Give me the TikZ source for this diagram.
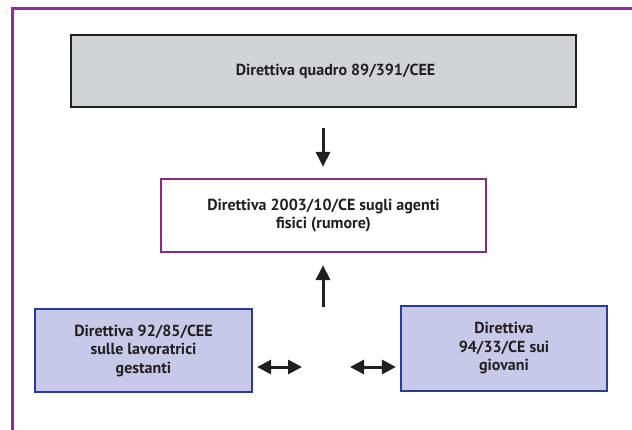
\documentclass[tikz,border=0pt]{standalone}
\usepackage{fontspec}
\setmainfont{PT Sans}
\usetikzlibrary{arrows.meta}
\definecolor{framepurple}{RGB}{150,40,160}
\definecolor{boxpurple}{RGB}{135,45,125}
\definecolor{grayfill}{RGB}{210,211,213}
\definecolor{darkline}{RGB}{35,31,32}
\definecolor{bluefill}{RGB}{200,201,232}
\definecolor{blueline}{RGB}{40,60,150}
\tikzset{
  lbl/.style={font=\fontsize{16}{18.5}\selectfont\bfseries, text=darkline, align=center},
  graybox/.style={lbl, rectangle, draw=darkline, line width=2.2pt, fill=grayfill},
  purplebox/.style={lbl, rectangle, draw=boxpurple, line width=2.2pt, fill=white},
  bluebox/.style={lbl, rectangle, draw=blueline, line width=2.2pt, fill=bluefill},
  bigarrow/.style={draw=darkline, line width=3pt, -{Triangle[length=15pt,width=14pt]}},
  dblarrow/.style={draw=darkline, line width=3pt, {Triangle[length=14pt,width=14pt]}-{Triangle[length=14pt,width=14pt]}}
}
\begin{document}
\begin{tikzpicture}[x=1pt,y=-1pt]
\useasboundingbox (0,0) rectangle (632,430);
\fill[white] (0,0) rectangle (632,430);
\draw[framepurple, line width=3pt] (12,431) -- (12,9) -- (633,9);
\node[graybox, minimum width=505pt, minimum height=72pt] (gray) at (323.5,71) {\hspace*{24pt}Direttiva quadro 89/391/CEE};
\node[purplebox, minimum width=325pt, minimum height=73pt] (main) at (323.5,215.5) {Direttiva 2003/10/CE sugli agenti\\fisici (rumore)};
\node[bluebox, minimum width=217pt, minimum height=83pt] (left) at (143.5,350.5) {Direttiva 92/85/CEE\\sulle lavoratrici\\gestanti};
\node[bluebox, minimum width=206pt, minimum height=85pt] (right) at (504,348.5) {Direttiva\\94/33/CE sui\\giovani};
\coordinate (uptail) at (323,307);
\coordinate (la) at (302,367);
\coordinate (ra) at (350,367);
\draw[bigarrow, shorten <=20pt, shorten >=11pt] (gray.south -| uptail) -- (main.north -| uptail);
\draw[bigarrow, shorten >=12pt] (uptail) -- (main.south -| uptail);
\draw[dblarrow, shorten <=4pt] (left.east |- la) -- (la);
\draw[dblarrow, shorten >=4pt] (ra) -- (right.west |- ra);
\end{tikzpicture}
\end{document}
